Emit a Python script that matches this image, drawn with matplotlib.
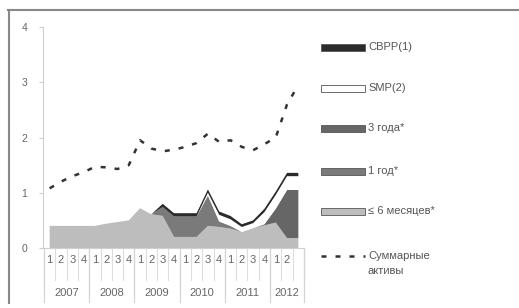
import matplotlib
matplotlib.use("Agg")
import matplotlib.pyplot as plt
from matplotlib.patches import Rectangle
from matplotlib.lines import Line2D

plt.rcParams['font.family'] = ['Liberation Sans', 'DejaVu Sans']

# ---- data ----
years = ["2007", "2008", "2009", "2010", "2011", "2012"]
quarter_labels = ["1", "2", "3", "4"] * 5 + ["1", "2", ""]
months6 = [0.40, 0.40, 0.40, 0.40, 0.40, 0.44, 0.47, 0.50, 0.72, 0.61, 0.58, 0.20,
           0.20, 0.20, 0.40, 0.38, 0.35, 0.29, 0.36, 0.41, 0.46, 0.18, 0.18]
year1 = [0, 0, 0, 0, 0, 0, 0, 0, 0, 0, 0.16, 0.37,
         0.37, 0.37, 0.55, 0.10, 0.05, 0, 0, 0, 0, 0, 0]
year3 = [0, 0, 0, 0, 0, 0, 0, 0, 0, 0, 0, 0,
         0, 0, 0, 0, 0, 0, 0, 0.02, 0.25, 0.87, 0.87]
smp = [0, 0, 0, 0, 0, 0, 0, 0, 0, 0, 0, 0,
       0, 0, 0.05, 0.12, 0.12, 0.09, 0.09, 0.22, 0.25, 0.25, 0.25]
cbpp = [0, 0, 0, 0, 0, 0, 0, 0, 0, 0, 0.06, 0.06,
        0.06, 0.06, 0.06, 0.06, 0.06, 0.05, 0.05, 0.06, 0.06, 0.06, 0.06]
total = [1.08, 1.20, 1.30, 1.37, 1.47, 1.46, 1.43, 1.50, 1.95, 1.80, 1.75, 1.78,
         1.83, 1.90, 2.07, 1.92, 1.95, 1.83, 1.77, 1.88, 2.00, 2.60, 2.95]
series_labels = ["CBPP(1)", "SMP(2)", "3 года*", "1 год*", "≤ 6 месяцев*"]
total_label = "Суммарные\nактивы"

W, H = 519, 308
fig = plt.figure(figsize=(W / 100, H / 100), dpi=100)
fig.patch.set_facecolor("white")

def fx(x):
    return x / W

def fy(y):
    return 1 - y / H

# axes placement (pixels): left 44, right 304, y0 at 248, y4 at 27
ax = fig.add_axes([fx(44), fy(248), fx(304) - fx(44), fy(27) - fy(248)])
n = len(months6)
x = list(range(n))

colors = ["#bdbdbd", "#7a7a7a", "#666666", "#ffffff", "#2b2b2b"]
ax.stackplot(x, months6, year1, year3, smp, cbpp, colors=colors, linewidth=0)
ax.plot(x, total, color="#333333", lw=1.8, linestyle=(0, (2, 3.6)))

ax.set_xlim(-0.5, n - 0.5)
ax.set_ylim(0, 4)
ax.set_yticks([0, 1, 2, 3, 4])
ax.set_xticks([])
for s in ["top", "right"]:
    ax.spines[s].set_visible(False)
ax.spines["left"].set_color("#cfcfcf")
ax.spines["bottom"].set_color("#cfcfcf")
ax.spines["left"].set_position(("outward", 1))
ax.tick_params(axis="y", colors="#cfcfcf", labelcolor="#666666", labelsize=7.5,
               length=3, pad=8)

# category axis labels and separators
for i, lab in enumerate(quarter_labels):
    ax.text(i, -0.22, lab, ha="center", va="center", fontsize=8, color="#666666",
            transform=ax.transData, clip_on=False)
for i in range(n + 1):
    ax.plot([i - 0.5, i - 0.5], [0, -0.58], color="#dddddd", lw=0.8, clip_on=False)
bounds = [0, 4, 8, 12, 16, 20, 23]
for b in bounds:
    ax.plot([b - 0.5, b - 0.5], [0, -0.97], color="#d4d4d4", lw=0.9, clip_on=False)
for k, yr in enumerate(years):
    c = (bounds[k] + bounds[k + 1]) / 2 - 0.5
    ax.text(c, -0.81, yr, ha="center", va="center", fontsize=8, color="#666666",
            clip_on=False)

# legend (manual, figure pixel coords)
rows_y = [47, 88, 128.5, 171.5, 211.5]
for lab, col, yy in zip(series_labels, colors[::-1], rows_y):
    fig.patches.append(Rectangle((fx(321), fy(yy + 3.5)), fx(365) - fx(321),
                                 fy(yy - 3.5) - fy(yy + 3.5), transform=fig.transFigure,
                                 facecolor=col, edgecolor="#555555", lw=0.6))
    fig.text(fx(368), fy(yy), lab, ha="left", va="center", fontsize=8, color="#555555")
fig.lines.append(Line2D([fx(321), fx(365)], [fy(256), fy(256)], transform=fig.transFigure,
                        color="#333333", lw=1.8, linestyle=(0, (2, 3.6))))
fig.text(fx(368), fy(256), "Суммарные", ha="left", va="center", fontsize=8, color="#555555")
fig.text(fx(368), fy(271), "активы", ha="left", va="center", fontsize=8, color="#555555")

# outer frame (top and left)
fig.lines.append(Line2D([fx(8), 1], [fy(10), fy(10)], transform=fig.transFigure,
                        color="#888888", lw=1.5))
fig.lines.append(Line2D([fx(9), fx(9)], [fy(10), fy(303)], transform=fig.transFigure,
                        color="#888888", lw=1.5))

fig.savefig("out.png", dpi=100)
